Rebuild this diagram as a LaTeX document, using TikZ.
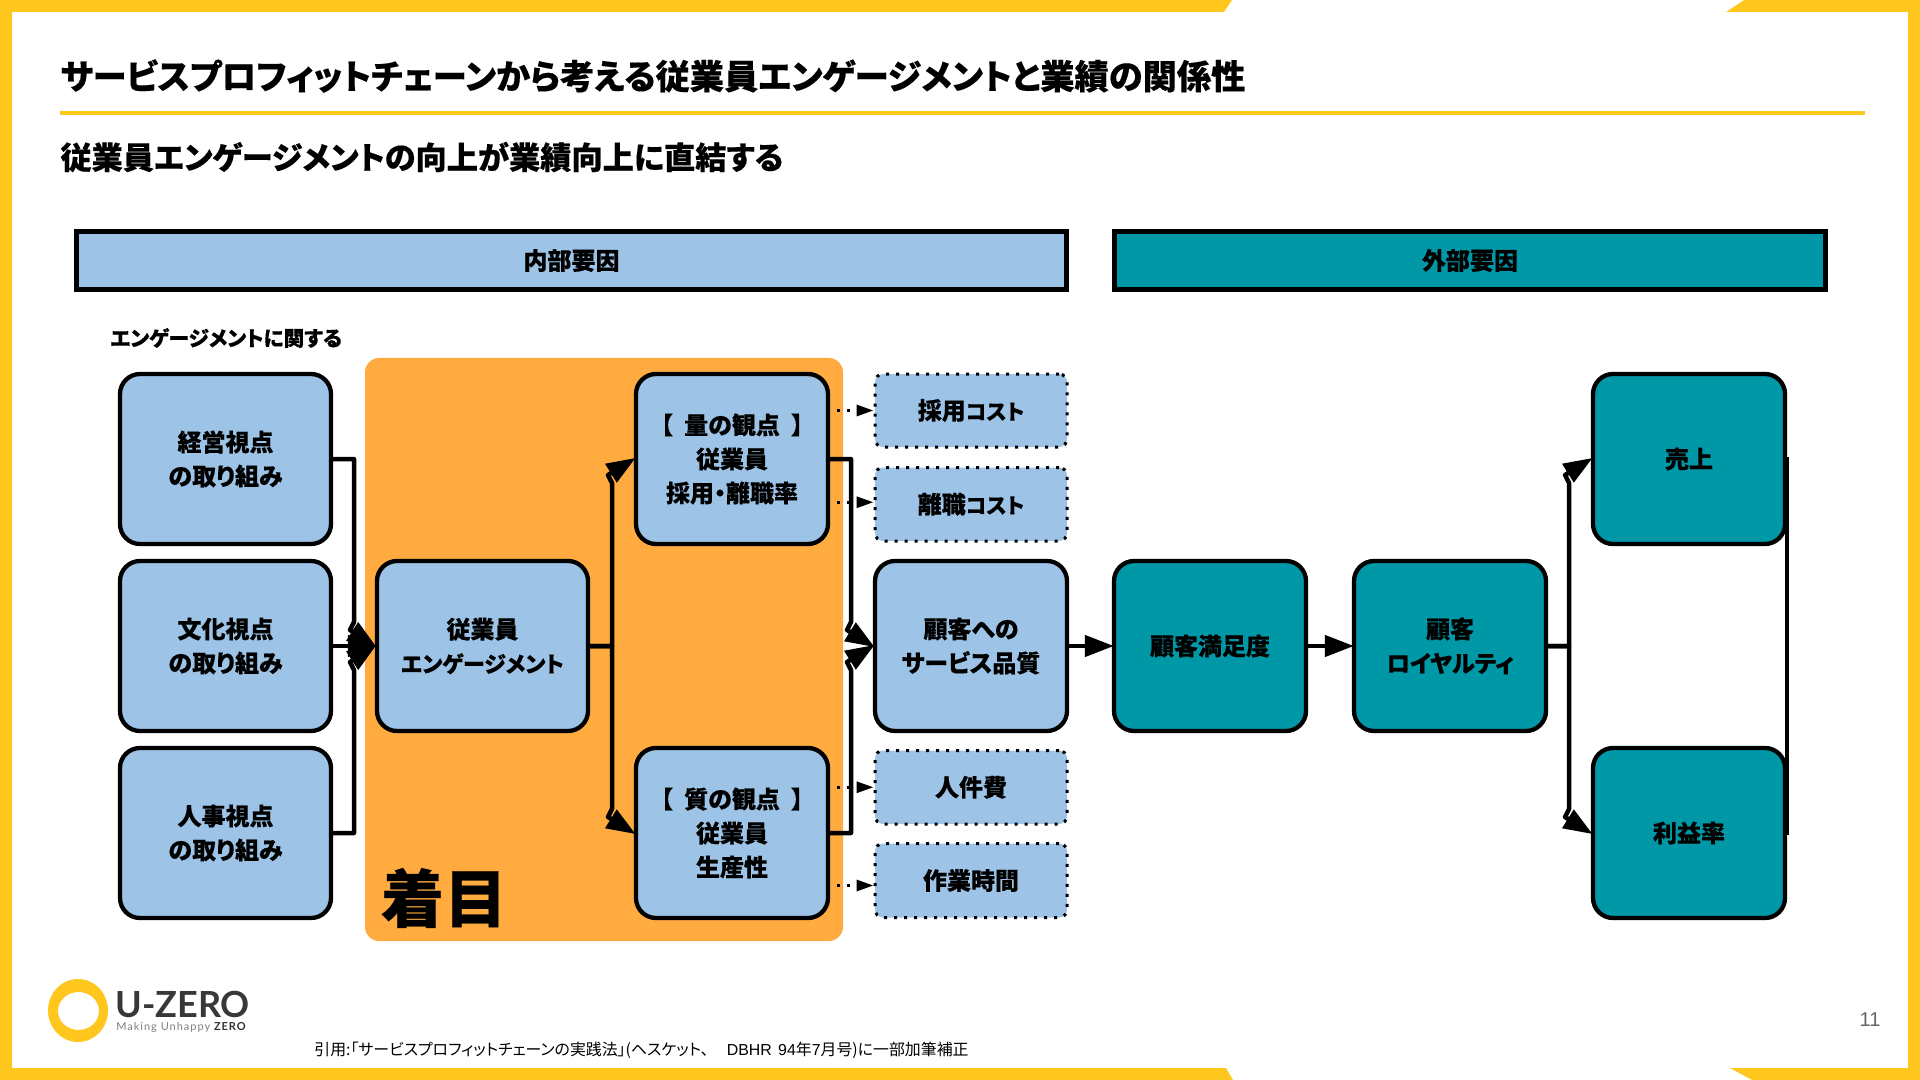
\documentclass[tikz,border=0pt]{standalone}
\usepackage{fontspec}
\usetikzlibrary{arrows.meta,calc}
\setmainfont{Noto Sans CJK JP}
\newfontfamily\jp[RawFeature={+palt},BoldFeatures={FakeBold=0.35}]{Noto Sans CJK JP}
\newfontfamily\lat{Lato}
\newfontfamily\latsp[LetterSpace=9]{Lato}
\newfontfamily\ari{Liberation Sans}
\definecolor{ylw}{HTML}{FFC71E}
\definecolor{lblue}{HTML}{9DC3E6}
\definecolor{teal2}{HTML}{0097A7}
\definecolor{orng}{HTML}{FFAB40}
\newcommand\kat[2]{{\fontsize{#1}{17}\selectfont #2}}
\newcommand\pxbox[7]{%
  \pgfmathsetmacro\cxx{(#3+#5)/2}\pgfmathsetmacro\cyy{(#4+#6)/2}%
  \pgfmathsetmacro\wdd{(#5-#3)*0.5}\pgfmathsetmacro\htt{(#6-#4)*0.5}%
  \node[#2,minimum width=\wdd pt,minimum height=\htt pt] (#1) at (\cxx,\cyy) {#7};}
\tikzset{
  lbl/.style={inner sep=0pt,align=center,text=black,font=\jp\bfseries\fontsize{12}{17}\selectfont},
  rbox/.style={lbl,draw=black,line width=2.15pt,rounded corners=10pt},
  bluebox/.style={rbox,fill=lblue},
  tealbox/.style={rbox,fill=teal2},
  dotbox/.style={lbl,draw=black,fill=lblue,line width=1.5pt,rounded corners=4pt,dash pattern=on 1.5pt off 3.5pt},
  head/.style={lbl,draw=black,line width=2.5pt},
  conn/.style={draw=black,line width=2.25pt,line join=round,shorten >=-1pt,-{Triangle[length=14.5pt,width=10.5pt]}},
  dotconn/.style={draw=black,line width=1.5pt,dash pattern=on 1.5pt off 3.5pt,dash phase=1.75pt,-{Triangle[length=8.5pt,width=5.5pt]}},
  plainline/.style={draw=black,line width=2pt,line cap=rect},
  txt/.style={inner sep=0pt,text=black},
}
\begin{document}
\begin{tikzpicture}[x=0.5pt,y=-0.5pt]
\useasboundingbox (0,0) rectangle (1920,1080);
% frame
\fill[ylw] (0,0) -- (1232,0) -- (1224,12) -- (12,12) -- (12,1068) -- (1226,1068) -- (1233,1080) -- (0,1080) -- cycle;
\fill[ylw] (1744,0) -- (1920,0) -- (1920,1080) -- (1752,1080) -- (1730,1068) -- (1908,1068) -- (1908,12) -- (1726,12) -- cycle;
% titles
\node[txt,anchor=west,font=\jp\bfseries\fontsize{17.13}{22}\selectfont] (title) at (60,76) {サービスプロフィットチェーンから考える従業員エンゲージメントと業績の関係性};
\draw[ylw,line width=1.75pt] (60,113) -- (1865,113);
\node[txt,anchor=west,font=\jp\bfseries\fontsize{15.6}{20}\selectfont] (subtitle) at (60,157) {従業員エンゲージメントの向上が業績向上に直結する};
% headers
\pxbox{hin}{head,fill=lblue}{76.5}{231.5}{1066.5}{289.5}{内部要因}
\pxbox{hout}{head,fill=teal2}{1114.5}{231.5}{1825.5}{289.5}{外部要因}
\node[txt,anchor=west,font=\jp\bfseries\fontsize{10.35}{14}\selectfont] (eng0) at (110,338) {エンゲージメントに関する};
% focus panel
\fill[orng,rounded corners=7pt] (365,358) rectangle (843,941);
\node[txt,font=\jp\bfseries\fontsize{31.5}{34}\selectfont] (focus) at (444,898) {着目};
% boxes
\pxbox{mg}{bluebox}{120}{374}{331}{544}{経営視点\\の取り組み}
\pxbox{cu}{bluebox}{120}{561}{331}{731}{文化視点\\の取り組み}
\pxbox{hr}{bluebox}{120}{748}{331}{918}{人事視点\\の取り組み}
\pxbox{eng}{bluebox}{377}{561}{588}{731}{従業員\\\kat{11}{エンゲージメント}}
\pxbox{qty}{bluebox}{636}{374}{828}{544}{【\hspace{3pt} 量の観点 \hspace{3pt}】\\従業員\\採用・離職率}
\pxbox{qual}{bluebox}{636}{748}{828}{918}{【\hspace{3pt} 質の観点 \hspace{3pt}】\\従業員\\生産性}
\pxbox{svc}{bluebox}{875}{561}{1067}{731}{顧客への\\サービス品質}
\pxbox{csat}{tealbox}{1114}{561}{1306}{731}{顧客満足度}
\pxbox{loy}{tealbox}{1354}{561}{1546}{731}{顧客\\\kat{11.6}{ロイヤルティ}}
\pxbox{sales}{tealbox}{1593}{374}{1785}{544}{売上}
\pxbox{profit}{tealbox}{1593}{748}{1785}{918}{利益率}
\pxbox{cost}{dotbox}{875}{374}{1067}{447}{採用\kat{10.6}{コスト}}
\pxbox{attr}{dotbox}{875}{467.5}{1067}{541}{離職\kat{10.6}{コスト}}
\pxbox{labor}{dotbox}{875}{750.5}{1067}{824}{人件費}
\pxbox{work}{dotbox}{875}{843.5}{1067}{917.5}{作業時間}
% connectors
\draw[conn] (mg.east) -| (354,622) -- (350,630) -- (eng.west);
\draw[conn] (hr.east) -| (354,670) -- (350,662) -- (eng.west);
\draw[conn] (cu.east) -- (eng.west);
\draw[conn] (eng.east) -| (612,483) -- (608,475) -- (qty.west);
\draw[conn] (eng.east) -| (612,809) -- (608,817) -- (qual.west);
\draw[conn] (qty.east) -| (851,622) -- (847,630) -- (svc.west);
\draw[conn] (qual.east) -| (851,670) -- (847,662) -- (svc.west);
\draw[conn] (svc.east) -- (csat.west);
\draw[conn] (csat.east) -- (loy.west);
\draw[conn] (loy.east) -| (1569,483) -- (1565,475) -- (sales.west);
\draw[conn] (loy.east) -| (1569,809) -- (1565,817) -- (profit.west);
\draw[plainline,xshift=-1pt] (sales.east) -- (profit.east);
\draw[dotconn] (cost.west -| qty.east) -- (cost.west);
\draw[dotconn] ([yshift=1pt]attr.west -| qty.east) -- ([yshift=1pt]attr.west);
\draw[dotconn] (labor.west -| qual.east) -- (labor.west);
\draw[dotconn] ([yshift=-2.5pt]work.west -| qual.east) -- ([yshift=-2.5pt]work.west);
% logo
\fill[ylw,even odd rule] (78,1010.5) ellipse [x radius=30,y radius=31.5] (78.5,1011) ellipse [x radius=20.5,y radius=19];
\node[txt,anchor=west,text=black!78,font=\lat\bfseries\fontsize{18}{20}\selectfont] (logo) at (115,1004.5) {U-ZERO};
\node[txt,anchor=west,font=\latsp\fontsize{5.5}{7}\selectfont,text=black!50] (tag) at (116,1027) {Making Unhappy \textcolor{black!80}{\textbf{ZERO}}};
% citation and page
\node[txt,anchor=west,font=\jp\fontsize{7.95}{9}\selectfont] (cite) at (314,1050) {引用:「サービスプロフィットチェーンの実践法」(ヘスケット、\hspace{9pt}{\ari DBHR\hspace{1pt} 94}年{\ari 7}月号)に一部加筆補正};
\node[txt,font=\ari\fontsize{10}{12}\selectfont,text=black!60] (page) at (1870,1020) {11};
\end{tikzpicture}
\end{document}
